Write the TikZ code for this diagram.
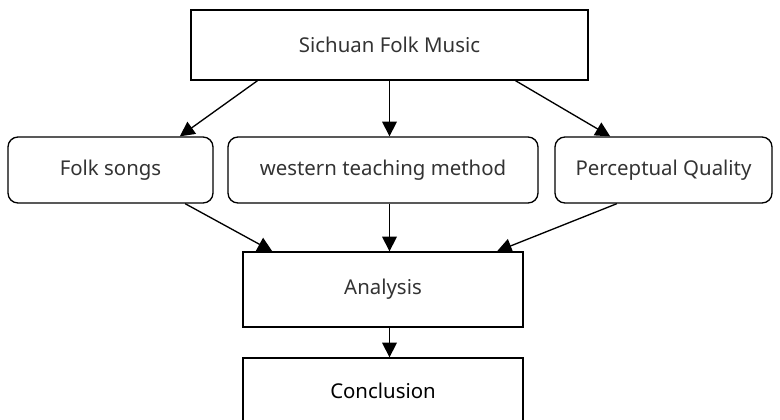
\documentclass[tikz,border=0pt]{standalone}
\usepackage{fontspec}
\setmainfont{Noto Sans}
\usetikzlibrary{arrows.meta}

\definecolor{txtgray}{HTML}{333333}

\tikzset{
  box/.style={draw, line width=1pt, inner sep=0pt, align=center, text=txtgray,
    font=\fontsize{15.3}{18}\selectfont},
  roundbox/.style={box, rounded corners=7.5pt},
  arr/.style={line width=1pt, -{Triangle[length=11pt,width=11pt]}}
}

\begin{document}
\begin{tikzpicture}[x=0.75pt,y=-0.75pt]

  \useasboundingbox (0,0) rectangle (780,419);

  \node[box, minimum width=297.75pt, minimum height=52.5pt] (music) at (389.5,45) {Sichuan Folk Music};

  \node[roundbox, minimum width=153.75pt, minimum height=49.5pt] (folk) at (110.5,170) {Folk songs};
  \node[roundbox, minimum width=232.5pt, minimum height=49.5pt] (western) at (383,170) {western teaching method};
  \node[roundbox, minimum width=162.75pt, minimum height=49.5pt] (percept) at (663.5,170) {Perceptual Quality};

  \node[box, minimum width=210pt, minimum height=56.25pt] (analysis) at (383,289.5) {Analysis};
  \node[box, minimum width=210pt, minimum height=49.5pt, text=black] (concl) at (383,391) {Conclusion};

  \draw[arr] ([xshift=-99pt]music.south) -- ([xshift=52pt]folk.north);
  \draw[arr] (music.south) -- (music.south |- western.north);
  \draw[arr] ([xshift=94.5pt]music.south) -- ([xshift=-40pt]percept.north);

  \draw[arr] ([xshift=56pt]folk.south) -- ([xshift=-83pt]analysis.north);
  \draw[arr] (music.south |- western.south) -- (music.south |- analysis.north);
  \draw[arr] ([xshift=-35pt]percept.south) -- ([xshift=85.5pt]analysis.north);

  \draw[arr] (music.south |- analysis.south) -- (music.south |- concl.north);

\end{tikzpicture}
\end{document}
